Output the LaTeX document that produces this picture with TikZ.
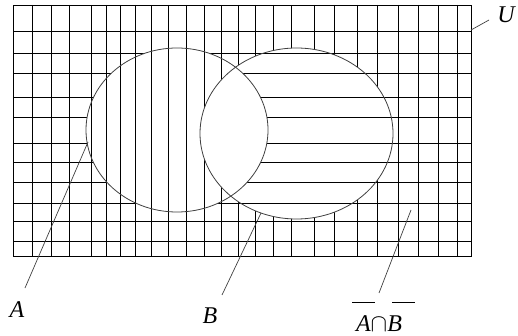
\documentclass[tikz,border=0pt]{standalone}
\usepackage{fontspec}
\setmainfont{Liberation Serif}
\begin{document}
\begin{tikzpicture}[x=1pt,y=-1pt,
  hatch/.style={line width=0.9pt,black},
  setedge/.style={line width=0.8pt,black!75},
  leader/.style={line width=0.7pt,black!75},
  lbl/.style={inner sep=0pt,font=\fontsize{24}{26}\selectfont\itshape}]
\useasboundingbox (0,0) rectangle (518,336);
\def\Apath{(177,130) ellipse [x radius=91pt, y radius=82pt]}
\def\Bpath{(296.5,133.5) ellipse [x radius=96.5pt, y radius=85.5pt]}
\def\vlines{\foreach \x in {32,51,69,91,106,120,135,151,168,186,204,221,238,255,273,291,314,334,357,377,398,418,438,457} {\draw[hatch] (\x,5) -- (\x,256);}}
\def\hlines{\foreach \y in {31,53,73,97,117,143,162,182,203,221,241} {\draw[hatch] (13,\y) -- (471,\y);}}
% full grid
\vlines
\hlines
% A: vertical lines only
\fill[white] \Apath;
\begin{scope}
  \clip \Apath;
  \vlines
\end{scope}
% B: horizontal lines only, A and B blank
\begin{scope}
  \clip \Bpath;
  \fill[white] (0,0) rectangle (518,336);
  \hlines
  \begin{scope}
    \clip \Apath;
    \fill[white] (0,0) rectangle (518,336);
  \end{scope}
\end{scope}
% universe border and sets
\draw[hatch] (13,5) rectangle (471,256);
\draw[setedge] \Apath;
\draw[setedge] \Bpath;
% labels
\coordinate (uTip) at (471,30);
\coordinate (uEnd) at (489,20);
\node[lbl] (lu) at (506,15) {U};
\coordinate (aTip) at (88,142);
\coordinate (aEnd) at (25,288);
\node[lbl] (la) at (17,310) {A};
\coordinate (bTip) at (261,213);
\coordinate (bEnd) at (222,295);
\node[lbl] (lb) at (210,316) {B};
\coordinate (cTip) at (411,210);
\coordinate (cEnd) at (379,293);
\node[lbl] (lc) at (379,324) {A$\cap$B};
\draw[leader] (uTip) -- (uEnd);
\draw[leader] (aTip) -- (aEnd);
\draw[leader] (bTip) -- (bEnd);
\draw[leader] (cTip) -- (cEnd);
\draw[line width=0.9pt] (352,302) -- (375,302);
\draw[line width=0.9pt] (392,302) -- (415,302);
\end{tikzpicture}
\end{document}
